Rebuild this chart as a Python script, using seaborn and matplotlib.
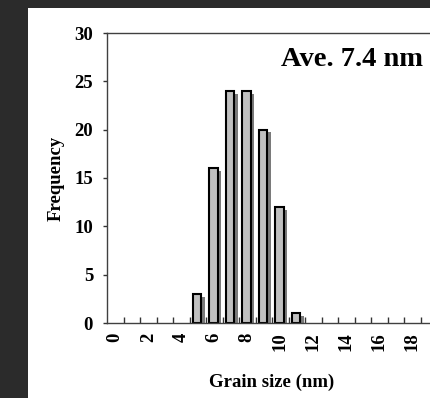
import matplotlib
matplotlib.use("Agg")
import matplotlib.pyplot as plt
import matplotlib.patheffects as pe
from matplotlib.patches import Rectangle
import seaborn as sns
import pandas as pd

sizes = list(range(0, 20))
freq = [0, 0, 0, 0, 0, 3, 16, 24, 24, 20, 12, 1, 0, 0, 0, 0, 0, 0, 0, 0]
tick_labels = [str(s) for s in range(0, 20, 2)]
yticks = [0, 5, 10, 15, 20, 25, 30]

sns.set_style("white")
plt.rcParams['font.family'] = ['Liberation Serif', 'DejaVu Serif']
plt.rcParams['font.weight'] = 'bold'
plt.rcParams['text.color'] = 'black'
plt.rcParams['xtick.color'] = 'black'
plt.rcParams['ytick.color'] = 'black'
plt.rcParams['axes.labelcolor'] = 'black'

fig = plt.figure(figsize=(4.3, 3.98), dpi=100, facecolor='#2b2b2b')
fig.patches.append(Rectangle((28/430, 0), 1, 1 - 8/398, transform=fig.transFigure,
                             facecolor='white', edgecolor='none', zorder=-5))
ax = fig.add_axes([107/430, 75/398, 330/430, 290/398])
ax.set_facecolor('none')

df = pd.DataFrame({"size": [str(s) for s in sizes], "freq": freq})
sns.barplot(data=df, x="size", y="freq", order=[str(s) for s in sizes],
            color='#c0c0c0', saturation=1, edgecolor='black', linewidth=1.5,
            width=0.5, ax=ax)
for p in ax.patches:
    p.set_x(p.get_x() - 0.05)
    if p.get_height() == 0:
        p.set_visible(False)
        continue
    p.set_path_effects([pe.SimplePatchShadow(offset=(2.5, -2), shadow_rgbFace='#7a7a7a', alpha=1.0),
                        pe.Normal()])

ax.set_xlim(-0.5, 19.5)
ax.set_ylim(0, 30)
ax.set_yticks(yticks)
ax.set_yticklabels([str(v) for v in yticks], fontsize=13.5, fontweight='bold')
ax.set_xticks(range(0, 20, 2))
ax.set_xticklabels(tick_labels, rotation=90, fontsize=13.5, fontweight='bold')
ax.set_xticks([k - 0.5 for k in range(1, 20)], minor=True)
ax.tick_params(axis='x', which='major', length=0, pad=7, bottom=True)
ax.tick_params(axis='x', which='minor', direction='in', length=4, width=1, color='#333333',
               bottom=True)
ax.tick_params(axis='y', which='major', direction='out', length=3, width=1, color='#333333', pad=7,
               left=True)
for s in ['left', 'bottom', 'top']:
    ax.spines[s].set_color('#404040')
    ax.spines[s].set_linewidth(1)
ax.spines['right'].set_visible(False)

ax.set_xlabel("Grain size (nm)", fontsize=13.5, fontweight='bold', labelpad=16)
ax.set_ylabel("Frequency", fontsize=13.5, fontweight='bold', labelpad=7)
ax.text(423/430, 1 - 59/398, "Ave. 7.4 nm", transform=fig.transFigure, ha='right', va='center',
        fontsize=20.5, fontweight='bold')

fig.savefig("out.png", dpi=100, facecolor=fig.get_facecolor())
